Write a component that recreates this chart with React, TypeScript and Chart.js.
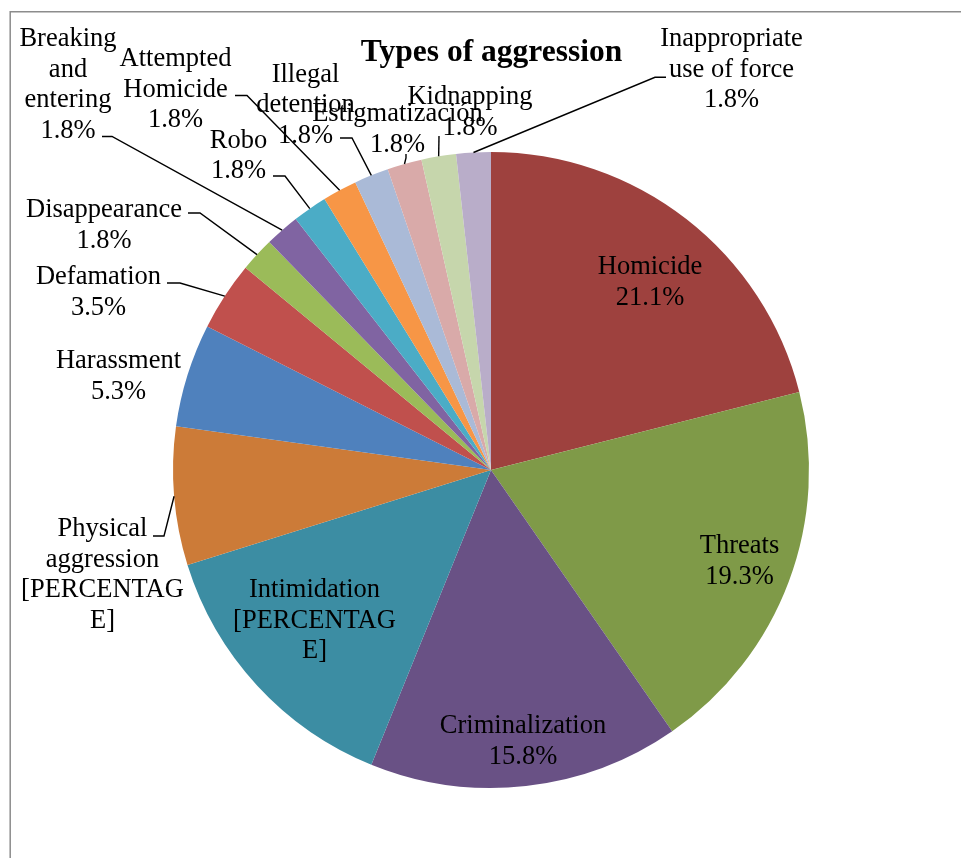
import { useEffect, useRef } from "react";
import { Chart, registerables } from "chart.js";

Chart.register(...registerables);

// Reported cases by type of aggression
const categories = [
  "Homicide",
  "Threats",
  "Criminalization",
  "Intimidation",
  "Physical aggression",
  "Harassment",
  "Defamation",
  "Disappearance",
  "Breaking and entering",
  "Robo",
  "Attempted Homicide",
  "Illegal detention",
  "Estigmatización",
  "Kidnapping",
  "Inappropriate use of force",
];
const caseCounts = [12, 11, 9, 8, 4, 3, 2, 1, 1, 1, 1, 1, 1, 1, 1];

// Label name lines (wrapped as displayed)
const nameLines: string[][] = [
  ["Homicide"],
  ["Threats"],
  ["Criminalization"],
  ["Intimidation"],
  ["Physical", "aggression"],
  ["Harassment"],
  ["Defamation"],
  ["Disappearance"],
  ["Breaking", "and", "entering"],
  ["Robo"],
  ["Attempted", "Homicide"],
  ["Illegal", "detention"],
  ["Estigmatización"],
  ["Kidnapping"],
  ["Inappropriate", "use of force"],
];
// slices whose value field is left as an unresolved placeholder
const placeholderValue = ["[PERCENTAG", "E]"];
const hasPlaceholder = [false, false, false, true, true, false, false, false, false, false, false, false, false, false, false];

const sliceColors = [
  "#9E413E",
  "#7F9A48",
  "#695185",
  "#3C8DA3",
  "#CC7B38",
  "#4F81BD",
  "#C0504D",
  "#9BBB59",
  "#8064A2",
  "#4BACC6",
  "#F79646",
  "#AABAD7",
  "#D9AAA9",
  "#C6D6AC",
  "#B9ADC9",
];

const TITLE = "Types of aggression";

// Label placement: text block centre x, first baseline, optional leader path start
type LabelLayout = { cx: number; y0: number; leader?: number[][] };
const labelLayout: LabelLayout[] = [
  { cx: 650, y0: 274 },
  { cx: 739.5, y0: 553 },
  { cx: 523, y0: 733 },
  { cx: 314.5, y0: 597 },
  { cx: 102.5, y0: 536, leader: [[153, 536], [164, 536]] },
  { cx: 118.5, y0: 368 },
  { cx: 98.5, y0: 284, leader: [[167, 283], [180, 283]] },
  { cx: 104, y0: 217, leader: [[188, 213], [200, 213]] },
  { cx: 68, y0: 46, leader: [[102, 136.5], [112, 136.5]] },
  { cx: 238.5, y0: 147.5, leader: [[273, 176], [285, 176]] },
  { cx: 175.5, y0: 66, leader: [[235, 95.5], [247, 95.5]] },
  { cx: 305.5, y0: 81.5, leader: [[340, 138], [352, 138]] },
  { cx: 397.5, y0: 121, leader: [[406, 154], [406, 158]] },
  { cx: 470, y0: 104, leader: [[439, 136]] },
  { cx: 731.5, y0: 46, leader: [[666, 77.3], [655, 77.3]] },
];
const LINE_HEIGHT = 30.6;

const total = caseCounts.reduce((a, b) => a + b, 0);

function labelText(i: number): string[] {
  const value = hasPlaceholder[i]
    ? placeholderValue
    : [((caseCounts[i] / total) * 100).toFixed(1) + "%"];
  return [...nameLines[i], ...value];
}

const framePlugin = {
  id: "frame",
  beforeDraw(chart: any) {
    const ctx = chart.ctx as CanvasRenderingContext2D;
    ctx.save();
    ctx.fillStyle = "#ffffff";
    ctx.fillRect(0, 0, chart.width, chart.height);
    ctx.strokeStyle = "#8c8c8c";
    ctx.lineWidth = 1.5;
    ctx.beginPath();
    ctx.moveTo(10.2, chart.height + 2);
    ctx.lineTo(10.2, 11.7);
    ctx.lineTo(chart.width + 2, 11.7);
    ctx.stroke();
    ctx.restore();
  },
};

const labelPlugin = {
  id: "sliceLabels",
  afterDatasetsDraw(chart: any) {
    const ctx = chart.ctx as CanvasRenderingContext2D;
    const arcs = chart.getDatasetMeta(0).data;
    ctx.save();

    // leader lines from label to the outer edge of the slice
    ctx.strokeStyle = "#000000";
    ctx.lineWidth = 1.4;
    labelLayout.forEach((l, i) => {
      if (!l.leader) return;
      const p = arcs[i].getProps(["x", "y", "startAngle", "endAngle", "outerRadius"], true);
      const mid = (p.startAngle + p.endAngle) / 2;
      const ax = p.x + Math.cos(mid) * p.outerRadius;
      const ay = p.y + Math.sin(mid) * p.outerRadius;
      ctx.beginPath();
      ctx.moveTo(l.leader[0][0], l.leader[0][1]);
      for (let k = 1; k < l.leader.length; k++) ctx.lineTo(l.leader[k][0], l.leader[k][1]);
      ctx.lineTo(ax, ay);
      ctx.stroke();
    });

    // label text
    ctx.fillStyle = "#000000";
    ctx.font = "26.5px 'Liberation Serif', 'Times New Roman', serif";
    ctx.textAlign = "center";
    ctx.textBaseline = "alphabetic";
    labelLayout.forEach((l, i) => {
      labelText(i).forEach((line, k) => {
        ctx.fillText(line, l.cx, l.y0 + k * LINE_HEIGHT);
      });
    });

    // title
    ctx.font = "bold 31.5px 'Liberation Serif', 'Times New Roman', serif";
    ctx.fillText(TITLE, 491.5, 61);
    ctx.restore();
  },
};

export default function App() {
  const canvasRef = useRef<HTMLCanvasElement | null>(null);

  useEffect(() => {
    if (!canvasRef.current) return;
    const chart = new Chart(canvasRef.current, {
      type: "pie",
      data: {
        labels: categories,
        datasets: [
          {
            data: caseCounts,
            backgroundColor: sliceColors,
            borderWidth: 0,
            hoverOffset: 0,
            offset: 0,
          },
        ],
      },
      options: {
        responsive: false,
        animation: false,
        devicePixelRatio: 1,
        layout: { padding: { left: 173, right: 152, top: 152, bottom: 70 } },
        plugins: {
          legend: { display: false },
          tooltip: { enabled: false },
          title: { display: false },
        },
        events: [],
      },
      plugins: [framePlugin, labelPlugin],
    });
    return () => chart.destroy();
  }, []);

  return (
    <div style={{ position: "absolute", left: 0, top: 0, width: 961, height: 858, background: "#fff" }}>
      <canvas ref={canvasRef} width={961} height={858} style={{ display: "block" }} />
    </div>
  );
}
